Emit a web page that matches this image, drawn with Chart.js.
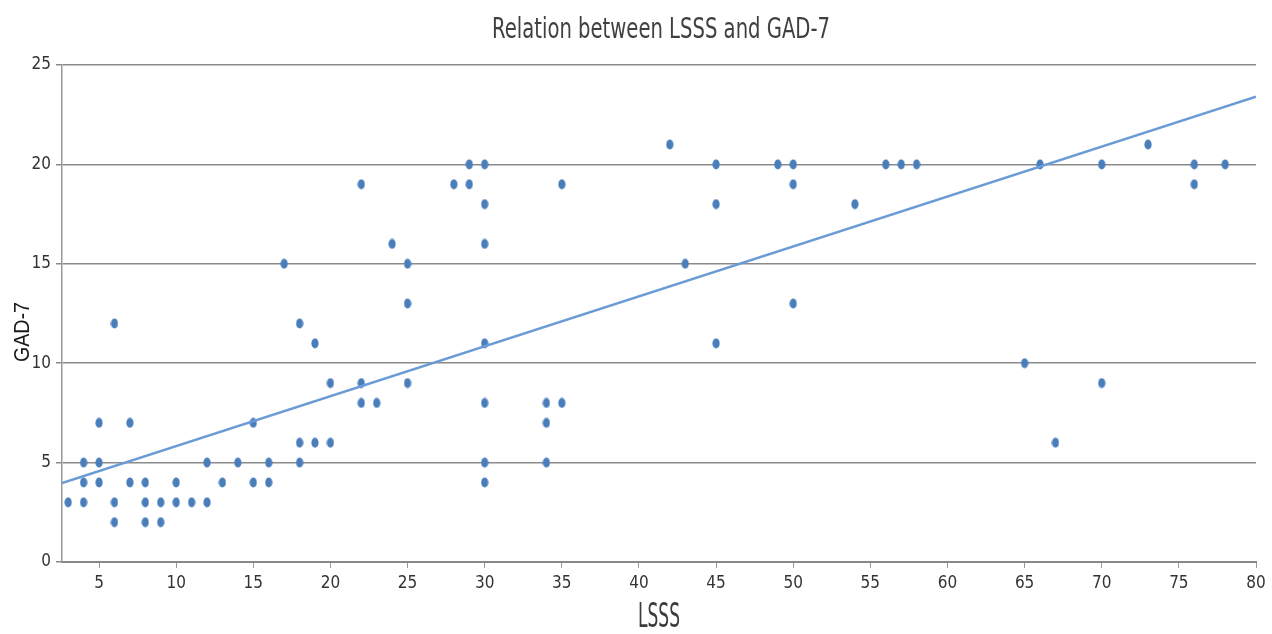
<!DOCTYPE html>
<html>
<head>
<meta charset="utf-8">
<script src="https://cdn.jsdelivr.net/npm/chart.js@4/dist/chart.umd.min.js"></script>
<style>
  html, body { margin: 0; padding: 0; background: #fff; }
  #wrap { width: 1272px; height: 634px; position: relative; }
</style>
</head>
<body>
<div id="wrap"><canvas id="lsssChart"></canvas></div>
<script>
const chartTitle = "Relation between LSSS and GAD-7";
const xTitle = "LSSS";
const yTitle = "GAD-7";

const lsss = [
  3, 4, 4, 4, 5, 5, 5, 6, 6, 6, 7, 7, 8, 8, 8, 9, 9, 10, 10, 11,
  12, 12, 13, 14, 15, 15, 16, 16, 17, 18, 18, 18, 19, 19, 20, 20,
  22, 22, 22, 23, 24, 25, 25, 25, 28, 29, 29, 30, 30, 30, 30, 30, 30, 30,
  34, 34, 34, 35, 35, 42, 43, 45, 45, 45, 49, 50, 50, 50, 54,
  56, 57, 58, 65, 66, 67, 70, 70, 73, 76, 76, 78
];
const gad7 = [
  3, 3, 4, 5, 4, 5, 7, 12, 3, 2, 7, 4, 4, 3, 2, 3, 2, 4, 3, 3,
  5, 3, 4, 5, 7, 4, 5, 4, 15, 12, 6, 5, 11, 6, 9, 6,
  19, 9, 8, 8, 16, 15, 13, 9, 19, 20, 19, 20, 18, 16, 11, 8, 5, 4,
  8, 7, 5, 19, 8, 21, 15, 20, 18, 11, 20, 20, 19, 13, 18,
  20, 20, 20, 10, 20, 6, 20, 9, 21, 20, 19, 20
];

// linear trend line as drawn in the source
const trendSlope = 0.251;
const trendIntercept = 3.32;

const xMin = 2.6;
const xMax = 80;
const xTicks = [5, 10, 15, 20, 25, 30, 35, 40, 45, 50, 55, 60, 65, 70, 75, 80];
const yTicks = [0, 5, 10, 15, 20, 25];

const narrowFont = "'DejaVu Sans Condensed', 'DejaVu Sans', sans-serif";

// points in the source are slightly tall ellipses
function makeDot() {
  const c = document.createElement("canvas");
  c.width = 8;
  c.height = 11;
  const g = c.getContext("2d");
  g.fillStyle = "#4a7ebb";
  g.beginPath();
  g.ellipse(4, 5.5, 3.6, 5, 0, 0, Math.PI * 2);
  g.fill();
  return c;
}

const points = lsss.map((x, i) => ({ x: x, y: gad7[i] }));
const trend = [xMin, xMax].map((x) => ({ x: x, y: trendIntercept + trendSlope * x }));

// the source image is squeezed sideways, so the titles are drawn squeezed too
function squeezedText(g, text, font, color, cx, cy, width, angle) {
  g.save();
  g.font = font;
  g.fillStyle = color;
  g.textAlign = "center";
  g.textBaseline = "middle";
  const w = g.measureText(text).width;
  g.translate(cx, cy);
  g.rotate(angle);
  g.scale(width / w, 1);
  g.fillText(text, 0, 0);
  g.restore();
}

const titlesPlugin = {
  id: "titles",
  afterDraw(chart) {
    const g = chart.ctx;
    const a = chart.chartArea;
    const mid = (a.left + a.right) / 2;
    squeezedText(g, chartTitle, "28px 'DejaVu Sans', sans-serif", "#404040", mid + 2, 31, 338, 0);
    squeezedText(g, xTitle, "33px 'DejaVu Sans', sans-serif", "#3a3a3a", mid, 618, 42, 0);
    squeezedText(g, yTitle, "22px 'Liberation Sans', Arial, sans-serif", "#1a1a1a", 23, 332, 60, -Math.PI / 2);
  }
};

const ctx = document.getElementById("lsssChart").getContext("2d");

new Chart(ctx, {
  type: "scatter",
  data: {
    datasets: [
      {
        label: "Data",
        data: points,
        pointStyle: makeDot(),
        pointRadius: 5,
        order: 2
      },
      {
        label: "Trend",
        type: "line",
        data: trend,
        borderColor: "#6a9bd6",
        borderWidth: 2.5,
        pointRadius: 0,
        fill: false,
        order: 1
      }
    ]
  },
  plugins: [titlesPlugin],
  options: {
    responsive: true,
    maintainAspectRatio: false,
    animation: false,
    layout: {
      padding: { left: 0, right: 16, top: 65, bottom: 0 }
    },
    plugins: {
      legend: { display: false },
      tooltip: { enabled: false },
      title: { display: false }
    },
    scales: {
      x: {
        type: "linear",
        min: xMin,
        max: xMax,
        afterBuildTicks: (scale) => {
          scale.ticks = xTicks.map((v) => ({ value: v }));
        },
        afterFit: (scale) => {
          scale.height = 72;
        },
        ticks: {
          color: "#333",
          font: { family: narrowFont, size: 17 },
          padding: 5,
          maxRotation: 0,
          autoSkip: false
        },
        grid: {
          drawOnChartArea: false,
          drawTicks: true,
          tickLength: 6,
          color: "#999"
        },
        border: { display: true, color: "#888", width: 2 }
      },
      y: {
        min: 0,
        max: 25,
        afterBuildTicks: (scale) => {
          scale.ticks = yTicks.map((v) => ({ value: v }));
        },
        afterFit: (scale) => {
          scale.width = 62;
        },
        ticks: {
          color: "#333",
          font: { family: narrowFont, size: 17 },
          padding: 5
        },
        grid: {
          color: "#8a8a8a",
          lineWidth: 1.5,
          tickLength: 6
        },
        border: { display: true, color: "#999", width: 1.5 }
      }
    }
  }
});
</script>
</body>
</html>
